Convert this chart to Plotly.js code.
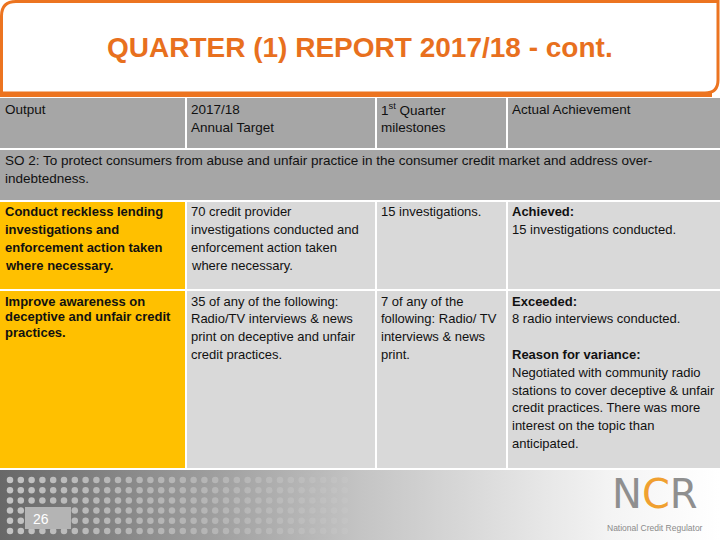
<!DOCTYPE html>
<html>
<head>
<meta charset="utf-8">
<script src="https://cdn.plot.ly/plotly-3.0.1.min.js"></script>
<style>
  html, body { margin: 0; padding: 0; background: #fff; }
  #slide { width: 720px; height: 540px; }
</style>
</head>
<body>
<div id="slide"></div>
<script>
// slide text
var slideTitle = 'QUARTER (1) REPORT 2017/18 - cont.';
var headerCells = [
  ['Output'],
  ['2017/18', 'Annual Target'],
  ['1<sup>st</sup> Quarter', 'milestones'],
  ['Actual Achievement']
];
var soLines = [
  'SO 2: To protect consumers from abuse and unfair practice in the consumer credit market and address over-',
  'indebtedness.'
];
var outputs = [
  ['Conduct reckless lending', 'investigations and', 'enforcement action taken', 'where necessary.'],
  ['Improve awareness on', 'deceptive and unfair credit', 'practices.']
];
var annualTargets = [
  ['70 credit provider', 'investigations conducted and', 'enforcement action taken', 'where necessary.'],
  ['35 of any of the following:', 'Radio/TV interviews & news', 'print on deceptive and unfair', 'credit practices.']
];
var q1Milestones = [
  ['15 investigations.'],
  ['7 of any of the', 'following: Radio/ TV', 'interviews & news', 'print.']
];
var achievements = [
  ['<b>Achieved:</b>', '15 investigations conducted.'],
  ['<b>Exceeded:</b>', '8 radio interviews conducted.', '', '<b>Reason for variance:</b>',
   'Negotiated with community radio', 'stations to cover deceptive & unfair',
   'credit practices. There was more', 'interest on the topic than', 'anticipated.']
];
var pageNumber = '26';

// table grid (pixel space, y grows downward)
var colLeft  = [0, 187, 377, 508];
var colRight = [185, 375, 506, 720];
var textX    = [3, 189, 379, 510];
var rowTop    = [98, 150, 202, 291];
var rowBottom = [148, 200, 289, 468];

var ORANGE = '#EC7420';
var HEAD_GREY = '#A6A6A6';
var CELL_GREY = '#D9D9D9';
var YELLOW = '#FFC000';
var FONT = 'Liberation Sans, Arial, sans-serif';

var shapes = [];
var annotations = [];

function rect(x0, y0, x1, y1, color, layer) {
  shapes.push({type: 'rect', xref: 'x', yref: 'y', x0: x0, y0: y0, x1: x1, y1: y1,
    fillcolor: color, line: {width: 0}, layer: layer || 'below'});
}

function addLines(lines, x, y0, step, size, bold) {
  for (var i = 0; i < lines.length; i++) {
    if (!lines[i]) continue;
    annotations.push({
      xref: 'x', yref: 'y', x: x, y: y0 + i * step,
      xanchor: 'left', yanchor: 'middle', showarrow: false, align: 'left',
      text: bold ? '<b>' + lines[i] + '</b>' : lines[i],
      font: {family: FONT, size: size, color: '#111111'}
    });
  }
}

// title box
shapes.push({type: 'path', xref: 'x', yref: 'y', layer: 'below',
  path: 'M 1.5,93 L 1.5,16 Q 1.5,1.5 16,1.5 L 718,1.5 L 718,80 Q 718,93 705,93 Z',
  fillcolor: '#ffffff', line: {color: ORANGE, width: 3}});
rect(0, 92, 712, 97, ORANGE);
annotations.push({xref: 'x', yref: 'y', x: 360, y: 47, showarrow: false,
  xanchor: 'center', yanchor: 'middle', text: '<b>' + slideTitle + '</b>',
  font: {family: FONT, size: 28, color: '#E8701E'}});

// header row
for (var c = 0; c < 4; c++) {
  rect(colLeft[c], rowTop[0], colRight[c], rowBottom[0], HEAD_GREY);
  addLines(headerCells[c], textX[c], 109, 18, 13.5, false);
}
// SO 2 row
rect(0, rowTop[1], 720, rowBottom[1], HEAD_GREY);
addLines(soLines, textX[0], 160, 18, 13.5, false);

// body rows
var bodyCols = [outputs, annualTargets, q1Milestones, achievements];
var firstLine = [211, 301];
var steps = [[18, 18, 18, 18], [15.5, 17.8, 17.8, 17.8]];
for (var r = 0; r < 2; r++) {
  for (var c = 0; c < 4; c++) {
    rect(colLeft[c], rowTop[r + 2], colRight[c], rowBottom[r + 2], c === 0 ? YELLOW : CELL_GREY);
    addLines(bodyCols[c][r], textX[c], firstLine[r], steps[r][c], 13, c === 0);
  }
}

// footer band with gradient
var footer = {
  x: [0, 720, 720, 0, 0], y: [470, 470, 540, 540, 470],
  type: 'scatter', mode: 'lines', fill: 'toself', line: {width: 0},
  fillgradient: {type: 'horizontal', colorscale: [
    [0, '#686868'], [0.25, '#969696'], [0.5, '#c4c4c4'], [0.72, '#e2e2e2'], [0.85, '#f4f4f4'], [1, '#ffffff']]},
  hoverinfo: 'skip', showlegend: false
};

// decorative dot texture on the footer
var dotX = [], dotY = [], dotC = [];
for (var row = 0; row < 6; row++) {
  for (var col = 0; col < 32; col++) {
    dotX.push(10 + col * 10.8);
    dotY.push(480 + row * 10.2);
    var a = 0.85 - col * 0.022;
    dotC.push('rgba(212,212,212,' + a.toFixed(2) + ')');
  }
}
var dots = {
  x: dotX, y: dotY, type: 'scatter', mode: 'markers',
  marker: {size: 6.5, color: dotC}, hoverinfo: 'skip', showlegend: false
};

// page number box
rect(25, 507, 71, 529, '#B4B4B4', 'above');
annotations.push({xref: 'x', yref: 'y', x: 31, y: 519, showarrow: false,
  xanchor: 'left', yanchor: 'middle', text: pageNumber,
  font: {family: FONT, size: 14, color: '#ffffff'}});

// NCR logo
annotations.push({xref: 'x', yref: 'y', x: 655, y: 494, showarrow: false,
  xanchor: 'center', yanchor: 'middle',
  text: '<span style="color:#8f8f8f">N</span><span style="color:#F0A030">C</span><span style="color:#8f8f8f">R</span>',
  font: {family: 'DejaVu Sans, sans-serif', size: 40, color: '#8f8f8f'}});
annotations.push({xref: 'x', yref: 'y', x: 655, y: 528, showarrow: false,
  xanchor: 'center', yanchor: 'middle', text: 'National Credit Regulator',
  font: {family: FONT, size: 8.5, color: '#8a8a8a'}});

var layout = {
  width: 720, height: 540,
  margin: {l: 0, r: 0, t: 0, b: 0},
  paper_bgcolor: '#ffffff', plot_bgcolor: '#ffffff',
  xaxis: {range: [0, 720], visible: false, fixedrange: true},
  yaxis: {range: [540, 0], visible: false, fixedrange: true},
  shapes: shapes,
  annotations: annotations,
  showlegend: false
};

Plotly.newPlot('slide', [footer, dots], layout, {displayModeBar: false, staticPlot: true});
</script>
</body>
</html>
